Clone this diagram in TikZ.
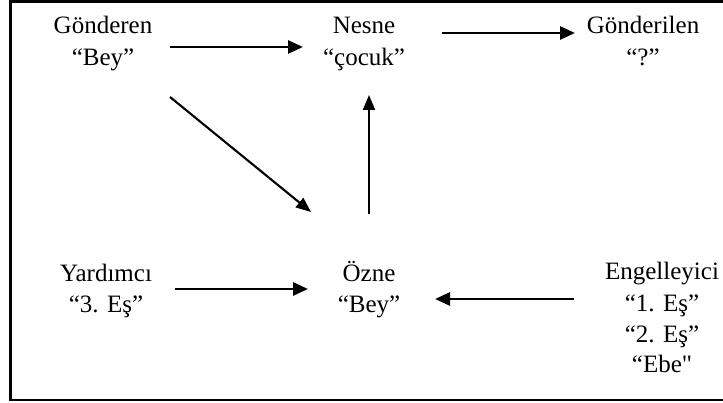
\documentclass[tikz,border=0pt]{standalone}
\usepackage{fontspec}
\setmainfont{Liberation Serif}[Ligatures=TeXOff]
\usetikzlibrary{arrows.meta,calc}
\tikzset{
  lbl/.style={anchor=base, align=center, inner sep=0pt, font=\fontsize{25}{32}\selectfont},
  lbltight/.style={lbl, font=\fontsize{25}{31}\selectfont},
  big/.style={line width=2.8pt, -{Triangle[length=15pt,width=13pt]}},
  mid/.style={line width=2.1pt, -{Triangle[length=15pt,width=12pt]}},
  frame/.style={line width=2.4pt}
}
\begin{document}
\begin{tikzpicture}[x=1pt,y=-1pt]
\useasboundingbox (0,0) rectangle (723,403);
\draw[frame] (730,1.5) -- (10.5,1.5) -- (10.5,400) -- (730,400);
\node[lbl] (g) at (103,66) {Gönderen\\“Bey”};
\node[lbl] (n) at (364,66) {Nesne\\“çocuk”};
\node[lbl] (gl) at (643,66) {Gönderilen\\“?”};
\node[lbl] (y) at (106,313) {Yardımcı\\“3. Eş”};
\node[lbl] (o) at (369,313) {Özne\\“Bey”};
\node[lbltight] (e) at (662,373) {Engelleyici\\“1. Eş”\\“2. Eş”\\“Ebe"};
\draw[big] ([shift={(67,-19)}]g.base) -- ([shift={(-61,-19)}]n.base);
\draw[big] ([shift={(78,-33)}]n.base) -- ([shift={(-68,-33)}]gl.base);
\draw[mid] ([shift={(67,31)}]g.base) -- ([shift={(-58,-101)}]o.base);
\draw[mid] ([shift={(0,-99)}]o.base) -- ([shift={(5,29)}]n.base);
\draw[big] ([shift={(69,-24)}]y.base) -- ([shift={(-61,-24)}]o.base);
\draw[big] ([shift={(-88,-74)}]e.base) -- ([shift={(66,-14)}]o.base);
\end{tikzpicture}
\end{document}
